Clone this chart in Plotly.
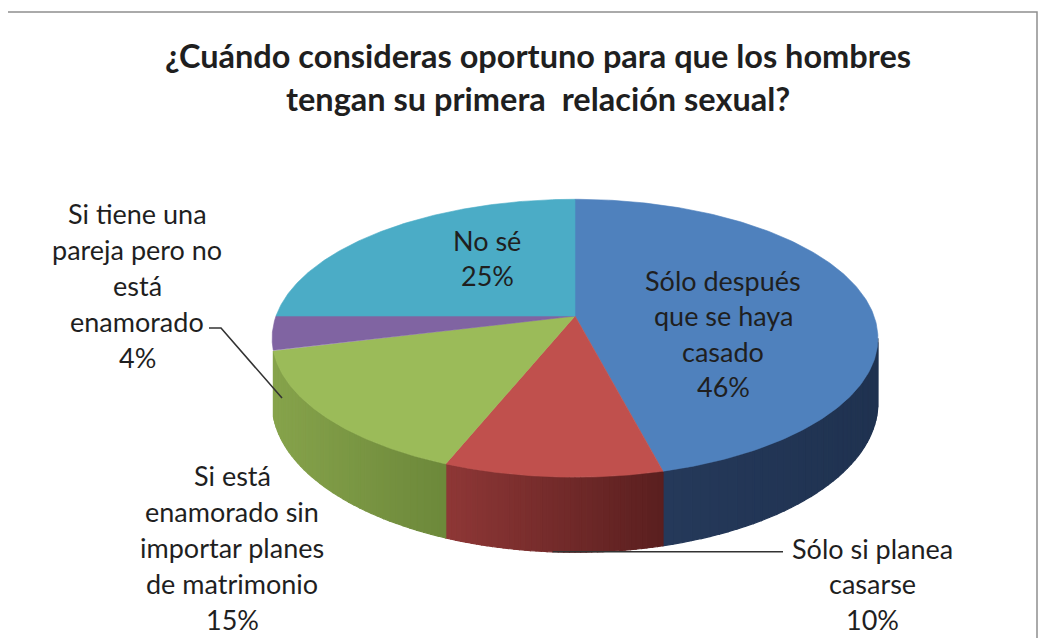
import numpy as np
import plotly.graph_objects as go

# ---------------- data ----------------
categories = [
    "Sólo después que se haya casado",
    "Sólo si planea casarse",
    "Si está enamorado sin importar planes de matrimonio",
    "Si tiene una pareja pero no está enamorado",
    "No sé",
]
values = [46, 10, 15, 4, 25]
label_lines = [
    ["Sólo después", "que se haya", "casado"],
    ["Sólo si planea", "casarse"],
    ["Si está", "enamorado sin", "importar planes", "de matrimonio"],
    ["Si tiene una", "pareja pero no", "está", "enamorado"],
    ["No sé"],
]
title_lines = ["¿Cuándo consideras oportuno para que los hombres",
               "tengan su primera \u00a0relación sexual?"]

# ---------------- style ----------------
top_colors = ["#4F81BD", "#C0504D", "#9BBB59", "#8064A2", "#4BACC6"]
side_colors = [("#25395A", "#1F3250"), ("#8E3736", "#5A1F1F"),
               ("#86A34B", "#6C883A"), ("#5E4A7A", "#4D3C66"), ("#37849A", "#2C6F82")]
FONT = "Lato"
TXT = "#1f1f1f"
W, H = 1046, 638
OFF = 8  # page body margin compensation

# pie geometry (pixels) and perspective
CX, CY = 575.0, 316.0
XS, YS = 299.0, 135.4
K = 0.16
DEPTH = 63.0


def rim(theta_deg, drop=0.0):
    t = np.radians(theta_deg)
    X, Z = np.sin(t), np.cos(t)
    w = 1 + K * Z
    return CX + XS * X / w, CY - YS * Z / w + drop / w


def interp(c1, c2, f):
    a = [int(c1[i:i + 2], 16) for i in (1, 3, 5)]
    b = [int(c2[i:i + 2], 16) for i in (1, 3, 5)]
    return "rgb(%d,%d,%d)" % tuple(round(a[j] + (b[j] - a[j]) * f) for j in range(3))


fig = go.Figure()
total = float(sum(values))
bounds = np.concatenate([[0], np.cumsum(values)]) / total * 360.0
vis_a = 90 + np.degrees(np.arcsin(K))
vis_b = 256.0

# side walls
for i in range(len(values)):
    a = max(bounds[i], vis_a)
    b = min(bounds[i + 1], vis_b)
    if b - a < 1:
        continue
    n = 40
    th = np.linspace(a, b, n + 1)
    xs_all = rim(th)[0]
    xmin, xmax = xs_all.min(), xs_all.max()
    for j in range(n):
        seg = np.linspace(th[j], th[j + 1], 4)
        tx, ty = rim(seg)
        bx, by = rim(seg[::-1], DEPTH)
        px = np.concatenate([tx, bx, tx[:1]])
        py = np.concatenate([ty, by, ty[:1]])
        f = ((tx.mean() - xmin) / (xmax - xmin)) if xmax > xmin else 0
        col = interp(side_colors[i][0], side_colors[i][1], f)
        fig.add_trace(go.Scatter(x=px, y=py, mode="lines", fill="toself",
                                 fillcolor=col, line=dict(color=col, width=1.2),
                                 hoverinfo="skip", showlegend=False))

# top faces
for i in range(len(values)):
    th = np.linspace(bounds[i], bounds[i + 1], 200)
    tx, ty = rim(th)
    px = np.concatenate([[CX], tx, [CX]])
    py = np.concatenate([[CY], ty, [CY]])
    fig.add_trace(go.Scatter(x=px, y=py, mode="lines", fill="toself",
                             fillcolor=top_colors[i], line=dict(color=top_colors[i], width=0.6),
                             hoverinfo="skip", showlegend=False, name=categories[i]))

# labels: (center x, first-line y, line spacing)
label_pos = [(723, 280, 35.5), (872, 548, 35.5), (232, 475, 36), (137, 213, 36), (487, 240, 35.5)]
annotations = []
for i in range(len(values)):
    lines = label_lines[i] + ["%d%%" % values[i]]
    x0, y0, sp = label_pos[i]
    for k, ln in enumerate(lines):
        annotations.append(dict(x=x0, y=y0 + k * sp, xref="x", yref="y", text=ln,
                                showarrow=False, xanchor="center", yanchor="middle",
                                font=dict(family=FONT, size=27, color=TXT)))

for k, ln in enumerate(title_lines):
    annotations.append(dict(x=538, y=55 + k * 43, xref="x", yref="y", text="<b>%s</b>" % ln,
                            showarrow=False, xanchor="center", yanchor="middle",
                            font=dict(family=FONT, size=32.5, color=TXT)))

# leader lines
mid_red = (bounds[1] + bounds[2]) / 2
sx, sy = rim(mid_red, DEPTH)
fig.add_trace(go.Scatter(x=[sx, 783], y=[sy, sy], mode="lines",
                         line=dict(color="#333333", width=1.6), hoverinfo="skip", showlegend=False))
fig.add_trace(go.Scatter(x=[209, 221, 282], y=[328, 328, 398], mode="lines",
                         line=dict(color="#333333", width=1.6), hoverinfo="skip", showlegend=False))

shapes = [dict(type="rect", xref="x", yref="y", x0=7, y0=12, x1=1037, y1=700,
               line=dict(color="#8f8f8f", width=1.5), fillcolor="rgba(0,0,0,0)")]

fig.update_layout(
    width=W, height=H, margin=dict(l=0, r=0, t=0, b=0),
    paper_bgcolor="white", plot_bgcolor="white",
    xaxis=dict(range=[OFF, W + OFF], visible=False, fixedrange=True),
    yaxis=dict(range=[H + OFF, OFF], visible=False, fixedrange=True),
    annotations=annotations, shapes=shapes, showlegend=False,
)
fig.write_html("out.html")
